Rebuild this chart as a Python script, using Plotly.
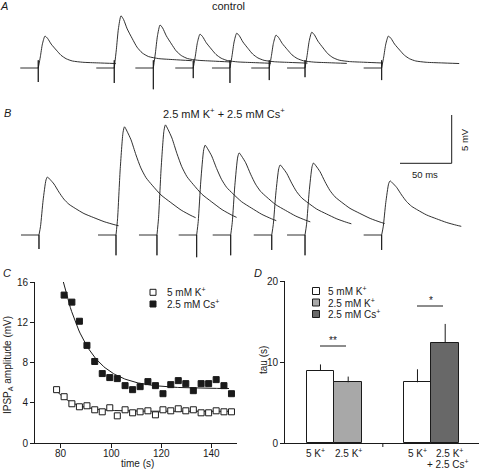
import numpy as np
import plotly.graph_objects as go

# ---------------- Panel A / B : recorded sweeps (time in ms, voltage in mV) ----------------
PRE_MS = 17.4                      # baseline recorded before each stimulus
A_stim_ms = [37.0, 110.5, 148.3, 186.9, 222.4, 260.4, 295.0, 369.1]
A_peak_mV = [3.3, 5.4, 4.45, 3.5, 3.6, 3.4, 3.7, 3.3]
A_artifact_mV = [1.45, 1.55, 2.2, 1.05, 1.55, 1.25, 0.95, 1.25]
A_artifact_up_mV = 0.8
A_shape_ms = [0, 2, 4, 6.5, 9, 12.5, 17.5, 22, 27, 33, 43, 58, 75]
A_shape_frac = [0, .35, .75, 1.0, .93, .75, .56, .40, .29, .22, .18, .16, .14]

B_stim_ms = [37.7, 112.2, 151.8, 190.2, 223.1, 262.8, 295.0, 369.1]
B_peak_mV = [6.0, 11.2, 11.4, 9.3, 8.5, 7.25, 7.45, 5.6]
B_artifact_mV = [1.45, 2.1, 2.1, 2.3, 2.1, 1.55, 2.1, 1.55]
B_artifact_up_mV = 0.0
B_shape_ms = [0, 1.5, 4, 6.8, 8.2, 10.6, 14.5, 19.3, 24, 29, 35, 43.5, 53, 63, 72.5, 77]
B_shape_frac = [0, .15, .6, .95, 1.0, .96, .88, .74, .62, .53, .46, .37, .30, .23, .18, .16]

SCALE_MS = 50
SCALE_MV = 5

# ---------------- Panel C : IPSP amplitude vs time ----------------
t_K = [78.3, 81.3, 84.4, 87.4, 90.4, 93.5, 96.5, 99.5, 102.5, 105.6, 108.6, 111.6,
       114.7, 117.7, 120.7, 123.8, 126.8, 129.8, 132.8, 135.9, 138.9, 141.9, 145.0, 148.0]
amp_K = [5.3, 4.6, 3.9, 3.6, 3.7, 3.3, 3.1, 3.5, 2.7, 3.3, 3.0, 3.1,
         3.2, 2.8, 3.3, 3.2, 3.4, 3.2, 3.3, 3.0, 3.0, 3.2, 3.1, 3.1]
t_Cs = [81.3, 84.4, 87.4, 90.4, 93.5, 96.5, 99.5, 102.5, 105.6, 108.6, 111.6,
        114.7, 117.7, 120.7, 123.8, 126.8, 129.8, 132.8, 135.9, 138.9, 141.9, 145.0, 148.0]
amp_Cs = [14.7, 14.0, 12.1, 9.7, 8.1, 6.9, 6.5, 6.4, 5.7, 5.3, 5.6,
          6.1, 5.7, 4.9, 5.8, 6.2, 5.9, 5.2, 5.9, 5.9, 6.3, 5.7, 4.9]
C_xticks = [80, 100, 120, 140]
C_yticks = [0, 4, 8, 12, 16]
# single-exponential fits: [start, end, plateau, amplitude at start, tau]
fit_K = [78.4, 147.0, 3.15, 2.0, 7.0]
fit_Cs = [81.0, 147.0, 5.4, 10.6, 10.2]

# ---------------- Panel D : decay time constants ----------------
D_labels = ["5 K<sup>+</sup>", "2.5 K<sup>+</sup>", "5 K<sup>+</sup>", "2.5 K<sup>+</sup>"]
D_label2 = "+ 2.5 Cs<sup>+</sup>"
D_tau = [8.9, 7.5, 7.5, 12.4]
D_sem = [0.8, 0.7, 1.6, 2.3]
D_yticks = [0, 10, 20]
D_legend = ["5 mM K<sup>+</sup>", "2.5 mM K<sup>+</sup>", "2.5 mM Cs<sup>+</sup>"]

# ---------------- styling / layout ----------------
W, H = 480, 469
FONT = "Liberation Sans, Arial, Helvetica, sans-serif"
INK = "#1a1a1a"
C_WHITE, C_LIGHT, C_DARK = "#ffffff", "#a8a8a8", "#686868"
D_pos = [1, 2, 4.5, 5.5]
D_label_px = [315, 348.5, 417, 449]
D_colors = [C_WHITE, C_LIGHT, C_WHITE, C_DARK]


def px(x):
    return x / W


def py(y):
    return 1 - y / H


def build(stims, peaks, arts, up, st, sf):
    lx, ly, sx, sy = [], [], [], []
    for s, p, a in zip(stims, peaks, arts):
        lx += [s - PRE_MS, s, s, s, s, None]
        ly += [0, 0, up, -a, 0, None]
        sx += [s + t for t in st] + [None]
        sy += [p * f for f in sf] + [None]
    return lx, ly, sx, sy


fig = go.Figure()

trace_line = dict(color=INK, width=0.9)
for (stims, peaks, arts, up, st, sf, xa, ya) in [
        (A_stim_ms, A_peak_mV, A_artifact_mV, A_artifact_up_mV, A_shape_ms, A_shape_frac, "x", "y"),
        (B_stim_ms, B_peak_mV, B_artifact_mV, B_artifact_up_mV, B_shape_ms, B_shape_frac, "x2", "y2")]:
    lx, ly, sx, sy = build(stims, peaks, arts, up, st, sf)
    fig.add_trace(go.Scatter(x=lx, y=ly, mode="lines", line=trace_line,
                             xaxis=xa, yaxis=ya, showlegend=False, hoverinfo="skip"))
    fig.add_trace(go.Scatter(x=sx, y=sy, mode="lines",
                             line=dict(color=INK, width=0.9, shape="spline", smoothing=0.6),
                             xaxis=xa, yaxis=ya, showlegend=False, hoverinfo="skip"))

# Panel C fits and points
for f in (fit_K, fit_Cs):
    tt = np.linspace(f[0], f[1], 120)
    fig.add_trace(go.Scatter(x=tt, y=f[2] + f[3] * np.exp(-(tt - f[0]) / f[4]),
                             mode="lines", line=dict(color=INK, width=1),
                             xaxis="x3", yaxis="y3", showlegend=False, hoverinfo="skip"))
fig.add_trace(go.Scatter(x=t_K, y=amp_K, mode="markers",
                         marker=dict(symbol="square", size=6, color="white",
                                     line=dict(color=INK, width=1)),
                         xaxis="x3", yaxis="y3", showlegend=False))
fig.add_trace(go.Scatter(x=t_Cs, y=amp_Cs, mode="markers",
                         marker=dict(symbol="square", size=6, color=INK,
                                     line=dict(color=INK, width=1)),
                         xaxis="x3", yaxis="y3", showlegend=False))

# Panel D bars
fig.add_trace(go.Bar(x=D_pos, y=D_tau, width=1,
                     marker=dict(color=D_colors, line=dict(color=INK, width=1)),
                     error_y=dict(type="data", array=D_sem, arrayminus=[0] * 4, symmetric=False,
                                  width=0, thickness=1, color=INK),
                     xaxis="x4", yaxis="y4", showlegend=False))

# axes
ms_per_px = SCALE_MS / 51.7
mv_per_px = SCALE_MV / 48.3
hidden = dict(visible=False, fixedrange=True, automargin=False)
fig.update_layout(
    xaxis=dict(domain=[0, 1], range=[0, W * ms_per_px], anchor="y", **hidden),
    yaxis=dict(domain=[py(100), py(0)], range=[-(100 - 68) * mv_per_px, 68 * mv_per_px],
               anchor="x", **hidden),
    xaxis2=dict(domain=[0, 1], range=[0, W * ms_per_px], anchor="y2", **hidden),
    yaxis2=dict(domain=[py(270), py(108)], range=[-(270 - 235) * mv_per_px, (235 - 108) * mv_per_px],
                anchor="x2", **hidden),
)

axis_common = dict(showline=True, linecolor=INK, linewidth=1, ticks="outside", ticklen=4,
                   tickwidth=1, tickcolor=INK, showgrid=False, zeroline=False, automargin=False,
                   fixedrange=True, tickfont=dict(size=10, color=INK, family=FONT))
fig.update_layout(
    xaxis3=dict(domain=[px(35), px(237)], range=[69.7, 150.2], anchor="y3",
                tickvals=C_xticks, showticklabels=False, **axis_common),
    yaxis3=dict(domain=[py(443), py(282)], range=[0, 16], anchor="x3",
                tickvals=C_yticks, **axis_common),
    xaxis4=dict(domain=[px(285), px(479)], range=[-0.28, 6.72], anchor="y4",
                tickvals=D_pos, showticklabels=False,
                **{**axis_common, "tickcolor": "rgba(0,0,0,0)"}),
    yaxis4=dict(domain=[py(443), py(281)], range=[0, 20], anchor="x4",
                tickvals=D_yticks, **axis_common),
)

shapes = []
annots = []


def ann(text, x, y, size=10, xanchor="center", angle=0):
    annots.append(dict(text=text, x=px(x), y=py(y), xref="paper", yref="paper",
                       xanchor=xanchor, yanchor="middle", showarrow=False, textangle=angle,
                       font=dict(size=size, color=INK, family=FONT)))


def square(cx, cy, s, fill):
    shapes.append(dict(type="rect", xref="paper", yref="paper",
                       x0=px(cx - s / 2), x1=px(cx + s / 2), y0=py(cy + s / 2), y1=py(cy - s / 2),
                       fillcolor=fill, line=dict(color=INK, width=1)))


def hline(x0, x1, y):
    shapes.append(dict(type="line", xref="paper", yref="paper",
                       x0=px(x0), x1=px(x1), y0=py(y), y1=py(y), line=dict(color=INK, width=1)))


# panel labels & titles
ann("<i>A</i>", 4, 6, 11)
ann("control", 228, 6, 11)
ann("<i>B</i>", 7, 113, 11)
ann("2.5 mM K<sup>+</sup> + 2.5 mM Cs<sup>+</sup>", 224, 113, 11)
ann("<i>C</i>", 7, 273, 11)
ann("<i>D</i>", 258, 273, 11)

# scale bar (data coordinates of panel B)
sb_x1 = 451.7 * ms_per_px
sb_y0 = (235 - 163.3) * mv_per_px
shapes.append(dict(type="line", xref="x2", yref="y2", x0=sb_x1, x1=sb_x1,
                   y0=sb_y0, y1=sb_y0 + SCALE_MV, line=dict(color=INK, width=1)))
shapes.append(dict(type="line", xref="x2", yref="y2", x0=sb_x1 - SCALE_MS, x1=sb_x1,
                   y0=sb_y0, y1=sb_y0, line=dict(color=INK, width=1)))
ann(f"{SCALE_MV} mV", 464, 140, 9.5, angle=-90)
ann(f"{SCALE_MS} ms", 425, 174, 9.5)

# panel C x tick labels (placed on the data scale of the x axis), titles & legend
for v in C_xticks:
    annots.append(dict(text=str(v), x=v, xref="x3", y=py(453), yref="paper",
                       xanchor="center", yanchor="middle", showarrow=False,
                       font=dict(size=10, color=INK, family=FONT)))
ann("IPSP<sub>A</sub> amplitude (mV)", 8, 365, 10, angle=-90)
ann("time (s)", 137, 463.5, 10)
square(153, 292.3, 6, "white")
ann("5 mM K<sup>+</sup>", 165, 292.3, 10, xanchor="left")
square(153, 304, 6, INK)
ann("2.5 mM Cs<sup>+</sup>", 165, 304, 10, xanchor="left")

# panel D titles, tick labels, legend, significance
ann("tau (s)", 263, 360, 10, angle=-90)
for lab, xl in zip(D_labels, D_label_px):
    ann(lab, xl, 453, 10)
ann(D_label2, 448, 463.5, 10)
for i, (lab, col) in enumerate(zip(D_legend, [C_WHITE, C_LIGHT, C_DARK])):
    yy = 291 + 11.5 * i
    square(316, yy, 7, col)
    ann(lab, 326, yy, 10, xanchor="left")
hline(320, 346, 346)
ann("**", 333, 340, 10)
hline(417, 443, 306)
ann("*", 431, 300, 10)
shapes.append(dict(type="line", xref="x4", yref="paper", x0=3.25, x1=3.25,
                   y0=py(443), y1=py(447), line=dict(color=INK, width=1)))

fig.update_layout(
    width=W, height=H, margin=dict(l=0, r=0, t=0, b=0, pad=0), autosize=False,
    paper_bgcolor="white", plot_bgcolor="white",
    font=dict(family=FONT, size=10, color=INK),
    shapes=shapes, annotations=annots, bargap=0, showlegend=False,
)

fig.write_html("out.html", config={"displayModeBar": False},
               post_script="document.documentElement.style.margin='0';"
                           "document.body.style.margin='0';"
                           "document.body.style.padding='0';"
                           "document.body.style.overflow='hidden';")
